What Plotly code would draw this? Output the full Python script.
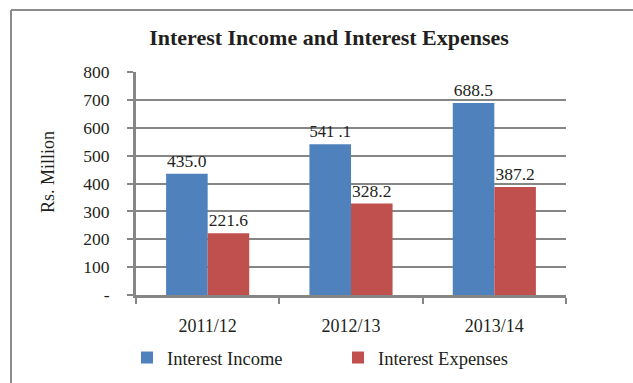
import plotly.graph_objects as go

# Financial years and interest figures (Rs. Million)
years = ["2011/12", "2012/13", "2013/14"]
interest_income = [435.0, 541.1, 688.5]
interest_expenses = [221.6, 328.2, 387.2]
income_labels = ["435.0", "541 .1", "688.5"]
expense_labels = ["221.6", "328.2", "387.2"]

y_tickvals = [0, 100, 200, 300, 400, 500, 600, 700, 800]
y_ticktext = ["-", "100", "200", "300", "400", "500", "600", "700", "800"]

FONT = "Liberation Serif"
TEXT_COLOR = "#231f20"
AXIS_GRAY = "#868686"

W, H = 633, 383
L, R, T, B = 136, 67, 72, 88
pw, ph = W - L - R, H - T - B


def px_to_paper_x(px):
    return (px - L) / pw


def px_to_paper_y(py):
    return (H - B - py) / ph


fig = go.Figure()
fig.add_trace(go.Bar(
    x=years, y=interest_income, name="Interest Income",
    marker=dict(color="#4f81bd", line=dict(width=0)),
    text=income_labels, textposition="outside",
    textfont=dict(family=FONT, size=17.5, color=TEXT_COLOR),
    cliponaxis=False,
))
fig.add_trace(go.Bar(
    x=years, y=interest_expenses, name="Interest Expenses",
    marker=dict(color="#c0504d", line=dict(width=0)),
    text=expense_labels, textposition="outside",
    textfont=dict(family=FONT, size=17.5, color=TEXT_COLOR),
    cliponaxis=False,
))

# Chart frame: top and left edges
fig.add_shape(type="line", xref="paper", yref="paper",
              x0=px_to_paper_x(11), x1=px_to_paper_x(640),
              y0=px_to_paper_y(10), y1=px_to_paper_y(10),
              line=dict(color="#8c8c8c", width=2))
fig.add_shape(type="line", xref="paper", yref="paper",
              x0=px_to_paper_x(11), x1=px_to_paper_x(11),
              y0=px_to_paper_y(10), y1=px_to_paper_y(390),
              line=dict(color="#8c8c8c", width=2))

# Vertical axis caption
fig.add_annotation(text="Rs. Million", xref="paper", yref="paper",
                   x=px_to_paper_x(48), y=px_to_paper_y(172),
                   xanchor="center", yanchor="middle", textangle=-90,
                   showarrow=False,
                   font=dict(family=FONT, size=18, color=TEXT_COLOR))

fig.update_layout(
    width=W, height=H,
    margin=dict(l=L, r=R, t=T, b=B, autoexpand=False),
    paper_bgcolor="white", plot_bgcolor="white",
    font=dict(family=FONT, size=17, color=TEXT_COLOR),
    title=dict(text="<b>Interest Income and Interest Expenses</b>",
               x=px_to_paper_x(329), xref="paper", xanchor="center",
               y=1 - 37 / H, yanchor="middle",
               font=dict(family=FONT, size=22, color=TEXT_COLOR)),
    barmode="group", bargap=0.42, bargroupgap=0,
    showlegend=True,
    legend=dict(orientation="h", x=px_to_paper_x(127), xanchor="left",
                y=px_to_paper_y(358), yanchor="middle",
                entrywidth=166, entrywidthmode="pixels",
                font=dict(family=FONT, size=18.5, color=TEXT_COLOR)),
    xaxis=dict(
        showline=True, linecolor=AXIS_GRAY, linewidth=3,
        ticks="outside", tickson="boundaries", ticklen=6,
        tickcolor=AXIS_GRAY, tickwidth=2,
        showgrid=False, ticklabelstandoff=12,
        tickfont=dict(family=FONT, size=18, color=TEXT_COLOR),
    ),
    yaxis=dict(
        range=[0, 800], tickvals=y_tickvals, ticktext=y_ticktext,
        showline=True, linecolor=AXIS_GRAY, linewidth=3,
        ticks="outside", ticklen=6, tickcolor=AXIS_GRAY, tickwidth=2,
        showgrid=True, gridcolor=AXIS_GRAY, gridwidth=1.5,
        zeroline=False, ticklabelstandoff=14,
        tickfont=dict(family=FONT, size=17.5, color=TEXT_COLOR),
    ),
)

fig.write_html("out.html")
